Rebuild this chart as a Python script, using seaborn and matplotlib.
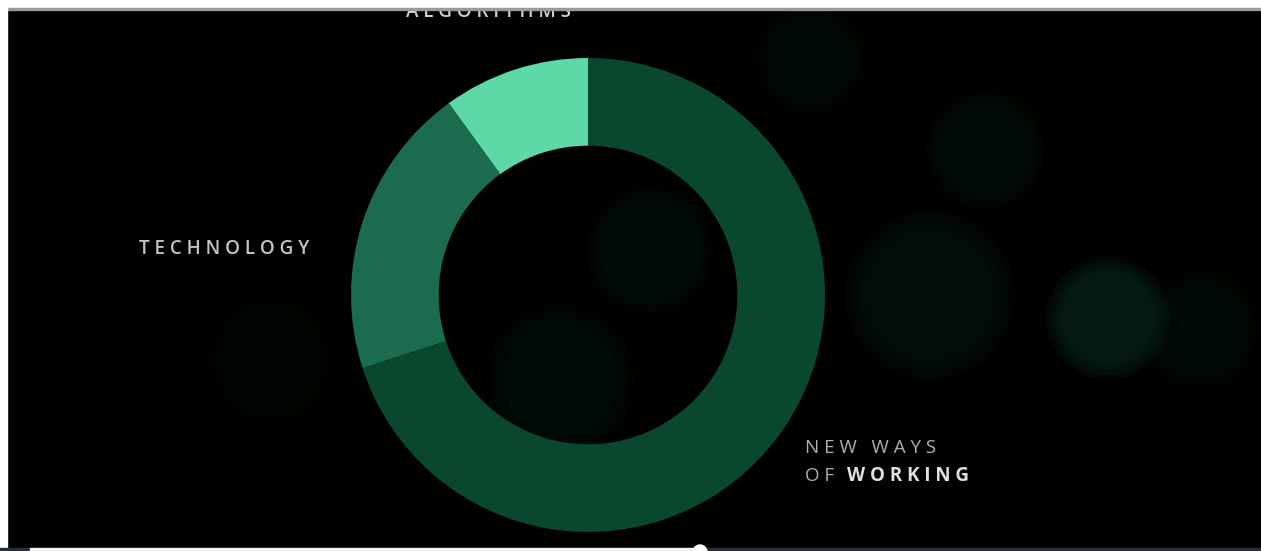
import matplotlib
matplotlib.use("Agg")
import matplotlib.pyplot as plt
from matplotlib.patches import Rectangle, Circle
import seaborn as sns

# data (percent of the ring, counter-clockwise from 12 o'clock)
categories = ["ALGORITHMS", "TECHNOLOGY", "NEW WAYS OF WORKING"]
shares = [10, 20, 70]
slice_colors = ["#5cd9a7", "#1b6b4f", "#09482f"]

sns.set_theme(style="dark")
plt.rcParams["font.family"] = ["Open Sans", "DejaVu Sans"]

W, H = 1261, 551
fig = plt.figure(figsize=(W / 100, H / 100), dpi=100, facecolor="white")


def spaced(s):
    # poor man's letter spacing
    return " ".join(s)


# background panel (video frame) in pixel coords
bg = fig.add_axes([0, 0, 1, 1], zorder=0)
bg.set_xlim(0, W)
bg.set_ylim(H, 0)
bg.axis("off")
bg.add_patch(Rectangle((7, 9), W - 7, 539, color="black"))
# faint bokeh blobs
for bx, by, r, c, a in [(1108, 318, 62, "#0c3a26", 0.45),
                        (930, 295, 85, "#0b2a1e", 0.3),
                        (985, 150, 60, "#0b241b", 0.3),
                        (810, 60, 55, "#0a1c16", 0.3),
                        (650, 250, 65, "#0b2a1e", 0.28),
                        (560, 380, 75, "#0a2a1c", 0.25),
                        (1200, 330, 60, "#0a2219", 0.25),
                        (270, 360, 65, "#081612", 0.25)]:
    for k in range(4):
        bg.add_patch(Circle((bx, by), r * (1 - k * 0.08), color=c,
                            alpha=a / 3, lw=0))

# donut
R = 237
cx, cy = 588, 295
ax = fig.add_axes([(cx - R) / W, (H - cy - R) / H, 2 * R / W, 2 * R / H], zorder=1)
ax.patch.set_alpha(0)
ax.pie(shares, colors=sns.color_palette(slice_colors), startangle=90,
       counterclock=True, wedgeprops=dict(width=0.37, linewidth=0))
ax.set_xlim(-1, 1)
ax.set_ylim(-1, 1)
ax.set_aspect("equal")
ax.axis("off")

fs = 13.5
ax.text(-0.422, 1.173, spaced(categories[0]), color="#d0d0d0", fontsize=fs,
        fontweight="semibold", ha="center", va="baseline", clip_on=False)
ax.text(-1.536, 0.173, spaced(categories[1]), color="#c4c4c4", fontsize=fs,
        fontweight="semibold", ha="center", va="baseline", clip_on=False)
ax.text(0.916, -0.667, spaced("NEW WAYS"), color="#b0b0b0", fontsize=fs,
        ha="left", va="baseline", clip_on=False)
ax.text(0.916, -0.785, spaced("OF"), color="#b0b0b0", fontsize=fs,
        ha="left", va="baseline", clip_on=False)
ax.text(1.093, -0.785, spaced("WORKING"), color="#e0e0e0", fontsize=fs,
        fontweight="bold", ha="left", va="baseline", clip_on=False)

# frame edges and player progress bar on top
top = fig.add_axes([0, 0, 1, 1], zorder=5)
top.set_xlim(0, W)
top.set_ylim(H, 0)
top.axis("off")
top.patch.set_alpha(0)
top.add_patch(Rectangle((0, 0), W, 8, color="white"))
top.add_patch(Rectangle((0, 8), W, 1.5, color="#9a9a9a"))
top.add_patch(Rectangle((0, 0), 7, H, color="white"))
top.add_patch(Rectangle((0, 548), W, 3, color="#2a2d38"))
top.add_patch(Rectangle((30, 548), 670, 3, color="#f2f2f2"))
top.add_patch(Circle((700, 552), 7, color="white"))

fig.savefig("out.png", dpi=100, facecolor=fig.get_facecolor())
